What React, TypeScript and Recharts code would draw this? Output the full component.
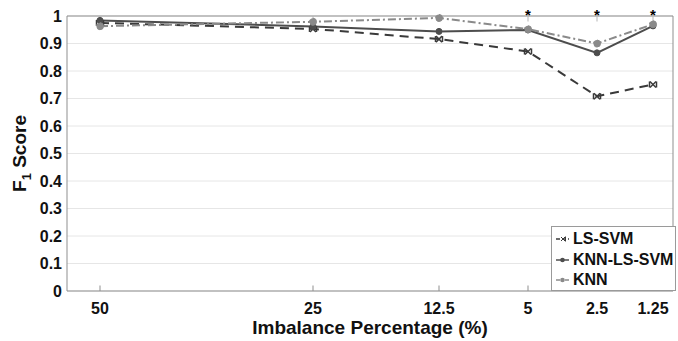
import {
  LineChart,
  Line,
  XAxis,
  YAxis,
  CartesianGrid,
  ReferenceLine,
  ReferenceDot,
  Label,
} from "recharts";

const categories = ["50", "25", "12.5", "5", "2.5", "1.25"];
// spacing of the categories on the original (non-uniform) x axis
const axisPos = [0, 213, 339, 428, 497, 553];
const lsSvm = [0.975, 0.953, 0.916, 0.871, 0.708, 0.751];
const knnLsSvm = [0.984, 0.962, 0.944, 0.949, 0.866, 0.964];
const knn = [0.963, 0.979, 0.993, 0.952, 0.9, 0.97];
const significant = ["5", "2.5", "1.25"];
const yTicks = [0, 0.1, 0.2, 0.3, 0.4, 0.5, 0.6, 0.7, 0.8, 0.9, 1];

const data = categories.map((c, i) => ({
  cat: c,
  pos: axisPos[i],
  lsSvm: lsSvm[i],
  knnLsSvm: knnLsSvm[i],
  knn: knn[i],
}));

const X_MIN = -33;
const X_MAX = 573;
const FONT = "'Liberation Sans', Arial, sans-serif";
const AXIS = "#8f8f8f";

const C_LS = "#3a3a3a";
const C_KLS = "#4d4d4d";
const C_KNN = "#8a8a8a";

const CrossDot = (p: any) => {
  const { cx, cy } = p;
  if (cx == null || cy == null) return null;
  return (
    <g key={p.key} stroke={C_LS} strokeWidth={1.5}>
      <line x1={cx - 3} y1={cy - 3} x2={cx + 3} y2={cy + 3} />
      <line x1={cx - 3} y1={cy + 3} x2={cx + 3} y2={cy - 3} />
      <line x1={cx - 3.5} y1={cy - 3} x2={cx - 3.5} y2={cy + 3} />
      <line x1={cx + 3.5} y1={cy - 3} x2={cx + 3.5} y2={cy + 3} />
    </g>
  );
};

const legendItems = [
  { name: "LS-SVM", color: C_LS, dash: "4 2", marker: "x" },
  { name: "KNN-LS-SVM", color: C_KLS, dash: "", marker: "o" },
  { name: "KNN", color: C_KNN, dash: "4 2 1 2", marker: "o" },
];

const LegendBox = () => (
  <div
    style={{
      position: "absolute",
      left: 551,
      top: 226,
      border: "1px solid #9a9a9a",
      background: "#fff",
      padding: "2px 0 0 3px",
      fontFamily: FONT,
      fontWeight: "bold",
      fontSize: 16,
      boxSizing: "border-box",
      width: 125,
      height: 65,
    }}
  >
    {legendItems.map((it) => (
      <div key={it.name} style={{ display: "flex", alignItems: "center", height: 20.5, color: "#111", whiteSpace: "nowrap" }}>
        <svg width={15} height={12} style={{ marginRight: 3, flex: "none" }}>
          <line x1={1} y1={6} x2={14} y2={6} stroke={it.color} strokeWidth={1.5} strokeDasharray={it.dash} />
          {it.marker === "o" ? (
            <circle cx={7.5} cy={6} r={2.3} fill={it.color} />
          ) : (
            <g stroke={it.color} strokeWidth={1}>
              <line x1={6} y1={4} x2={10} y2={8} />
              <line x1={6} y1={8} x2={10} y2={4} />
              <line x1={10.5} y1={3.5} x2={10.5} y2={8.5} />
            </g>
          )}
        </svg>
        <span>{it.name}</span>
      </div>
    ))}
  </div>
);

const YTitle = (props: any) => {
  const vb = props.viewBox || {};
  const x = 26;
  const y = (vb.y ?? 16) + (vb.height ?? 275) / 2;
  return (
    <text
      x={x}
      y={y}
      transform={`rotate(-90 ${x} ${y})`}
      textAnchor="middle"
      fontFamily={FONT}
      fontWeight="bold"
      fontSize={19}
      fill="#111"
    >
      F<tspan fontSize={13} dy={5}>1</tspan>
      <tspan dy={-5}> Score</tspan>
    </text>
  );
};

const XTitle = (props: any) => {
  const vb = props.viewBox || {};
  const x = (vb.x ?? 67) + (vb.width ?? 606) / 2;
  return (
    <text x={x} y={334} textAnchor="middle" fontFamily={FONT} fontWeight="bold" fontSize={19} fill="#111">
      Imbalance Percentage (%)
    </text>
  );
};

const tickStyle = { fontFamily: FONT, fontWeight: "bold", fontSize: 16, fill: "#111" } as any;

export default function App() {
  return (
    <div style={{ position: "absolute", left: 0, top: 0, width: 678, height: 341, background: "#fff" }}>
      <LineChart width={678} height={341} data={data} margin={{ top: 16, right: 5, bottom: 0, left: 0 }}>
        <CartesianGrid vertical={false} stroke="#e6e6e6" strokeWidth={1} />
        <XAxis
          type="number"
          dataKey="pos"
          domain={[X_MIN, X_MAX]}
          ticks={axisPos}
          tickFormatter={(v: number) => categories[axisPos.indexOf(v)] ?? ""}
          tick={tickStyle}
          tickLine={false}
          tickSize={0}
          tickMargin={12}
          height={50}
          stroke={AXIS}
          interval={0}
        >
          <Label content={XTitle} />
        </XAxis>
        <YAxis
          type="number"
          domain={[0, 1]}
          ticks={yTicks}
          tickFormatter={(v: number) => String(Math.round(v * 10) / 10)}
          tick={tickStyle}
          tickLine={false}
          tickSize={0}
          tickMargin={5}
          width={67}
          stroke={AXIS}
          interval={0}
        >
          <Label content={YTitle} />
        </YAxis>
        <ReferenceLine y={1} stroke={AXIS} ifOverflow="visible" />
        <ReferenceLine x={X_MAX} stroke={AXIS} ifOverflow="visible" />
        {axisPos.map((p) => (
          <ReferenceLine
            key={"b" + p}
            segment={[{ x: p, y: 0 }, { x: p, y: 0.02 }]}
            stroke={AXIS}
          />
        ))}
        {axisPos.map((p) => (
          <ReferenceLine
            key={"t" + p}
            segment={[{ x: p, y: 1 }, { x: p, y: 0.98 }]}
            stroke="#b5b5b5"
          />
        ))}
        <Line
          dataKey="lsSvm"
          name="LS-SVM"
          stroke={C_LS}
          strokeWidth={2}
          strokeDasharray="9 6"
          dot={CrossDot}
          isAnimationActive={false}
        />
        <Line
          dataKey="knnLsSvm"
          name="KNN-LS-SVM"
          stroke={C_KLS}
          strokeWidth={2}
          dot={{ r: 3, fill: C_KLS, stroke: C_KLS, strokeWidth: 1 }}
          isAnimationActive={false}
        />
        <Line
          dataKey="knn"
          name="KNN"
          stroke={C_KNN}
          strokeWidth={2}
          strokeDasharray="8 3 2 3"
          dot={{ r: 3.5, fill: C_KNN, stroke: C_KNN, strokeWidth: 1 }}
          isAnimationActive={false}
        />
        {significant.map((s) => (
          <ReferenceDot
            key={"s" + s}
            x={axisPos[categories.indexOf(s)]}
            y={1}
            r={0}
            ifOverflow="visible"
            shape={(p: any) => (
              <text
                x={p.cx}
                y={p.cy + 4}
                textAnchor="middle"
                fontFamily={FONT}
                fontWeight="bold"
                fontSize={15}
                fill="#000"
              >
                *
              </text>
            )}
          />
        ))}
      </LineChart>
      <LegendBox />
    </div>
  );
}
